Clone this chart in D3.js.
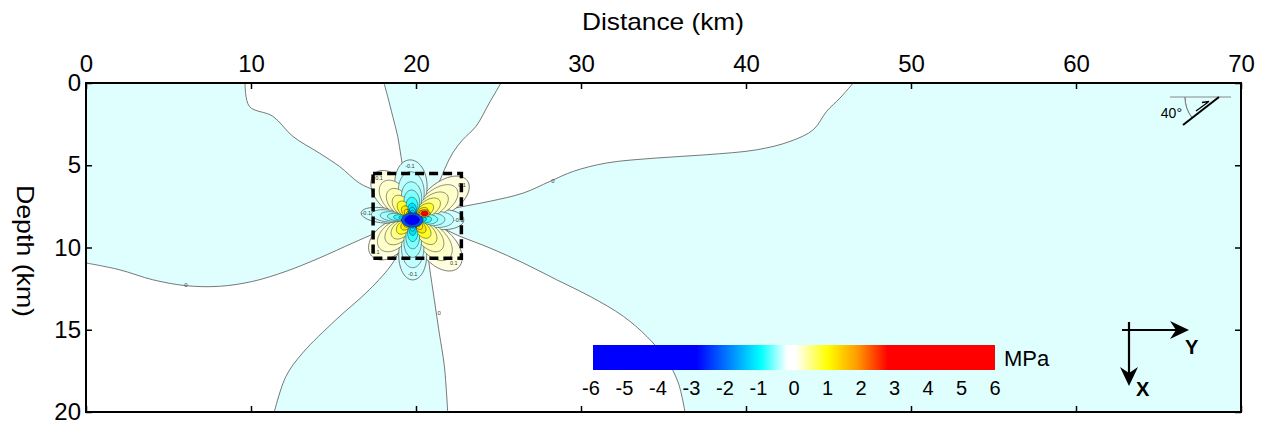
<!DOCTYPE html>
<html>
<head>
<meta charset="utf-8">
<script src="https://cdn.jsdelivr.net/npm/d3@7"></script>
<style>
body{margin:0;background:#fff;}
text{font-family:Arial,"Liberation Sans",sans-serif;}
</style>
</head>
<body>
<script>
// ticks
var distTicks = [0,10,20,30,40,50,60,70];
var depthTicks = [0,5,10,15,20];
var barTicks = [-6,-5,-4,-3,-2,-1,0,1,2,3,4,5,6];

// MPa colour scale
var stopValues = [-6,-2.9,-1,-0.2,0.05,1,1.9,2.8,6];
var stopColors = ["#0000ff","#0000ff","#00ffff","#ffffff","#ffffff","#ffff00","#ff9900","#ff0000","#ff0000"];

// far field: cyan background (slightly negative), white sectors (slightly positive)
var bgValue = -0.3;
var whiteValue = 0;

// zero contours [distance km, depth km], outer end first
var zeroNW = [[9.64,0],[9.9,1.42],[11.32,2.02],[12.53,3.24],[14.14,4.26],[15.35,5.06],[16.56,6.08],[17.58,6.58],[18.79,7.29]];
var zeroNNW = [[18.06,0],[18.28,0.81],[18.59,2.03],[18.89,3.24],[19.09,4.46],[19.29,5.67],[19.5,7.0]];
var zeroNNE = [[25.15,0],[24.44,1.22],[23.64,2.63],[22.83,3.45],[22.22,4.26],[21.72,5.27],[21.21,6.49],[20.6,7.6]];
var zeroENE = [[46.5,0],[45.7,0.91],[44.89,1.72],[44.08,2.84],[42.67,3.55],[40.65,4.06],[37.62,4.36],[34.59,4.56],[31.56,4.86],[29.54,5.37],[28.12,5.98],[26.5,6.69],[24.48,7.19],[22.67,7.54],[21.5,7.8]];
var zeroESE = [[36.3,20],[35.9,18.24],[35.19,16.82],[33.98,15.4],[32.56,14.18],[30.55,12.97],[28.52,11.96],[26.5,10.94],[24.48,10.03],[22.67,9.32],[21.5,8.8]];
var zeroS = [[21.92,20],[21.72,17.22],[21.41,15.2],[21.11,13.17],[20.81,11.14],[20.61,9.53],[20.4,8.9]];
var zeroSSW = [[11.41,20],[12.12,17.83],[13.13,16.41],[15.15,14.39],[17.17,12.57],[18.59,10.94],[19.19,9.73],[19.4,9.0]];
var zeroW = [[0,10.94],[2.02,11.35],[4.04,11.96],[6.06,12.32],[8.08,12.36],[10.1,12.06],[12.12,11.45],[14.14,10.64],[16.16,9.73],[17.58,9.12],[18.79,8.71]];
var zeroLabels = [[28.3,5.93],[6.06,12.3],[21.41,14.0]];

// source area
var origin = [19.8,8.27];
var boxDist = [17.4,22.75];
var boxDepth = [5.5,10.65];

// stress lobes around the source
var lobeAngle  = [-93, 90, -173, 1, -129, -35, 138, 47];
var lobeLength = [3.6, 3.7, 3.15, 3.1, 3.6, 4.05, 3.35, 4.05];
var lobeSharp  = [4.5, 6.5, 17, 9, 4.5, 6, 4, 5];
var lobeSign   = [-1,-1,-1,-1,1,1,1,1];
var bandFraction = [1, 0.8, 0.63, 0.49, 0.37, 0.27];
var posBands = [0.17, 0.24, 0.33, 0.48, 0.85, 1.2];
var negBands = [-0.34, -0.4, -0.48, -0.6, -0.85, -1.2];
var lineFraction = [0.2, 0.15, 0.11, 0.08];

// peaks near the hypocentre
var peakDist  = [19.77, 19.77, 20.52, 20.52];
var peakDepth = [8.33, 8.33, 7.93, 7.93];
var peakRx    = [0.66, 0.45, 0.34, 0.21];
var peakRy    = [0.44, 0.3, 0.23, 0.15];
var peakValue = [-2.3, -4.5, 1.9, 3.3];

var width = 1266, height = 430;
var svg = d3.select("body").append("svg").attr("width",width).attr("height",height);

var x = d3.scaleLinear().domain([0,70]).range([86,1241]);
var y = d3.scaleLinear().domain([0,20]).range([83,412]);
var color = d3.scaleLinear().domain(stopValues).range(stopColors).clamp(true);

svg.append("clipPath").attr("id","plotclip").append("rect")
  .attr("x",x(0)).attr("y",y(0)).attr("width",x(70)-x(0)).attr("height",y(20)-y(0));
var plot = svg.append("g").attr("clip-path","url(#plotclip)");

plot.append("rect")
  .attr("x",x(0)).attr("y",y(0)).attr("width",x(70)-x(0)).attr("height",y(20)-y(0))
  .attr("fill",color(bgValue));

var line = d3.line().x(function(d){return x(d[0]);}).y(function(d){return y(d[1]);}).curve(d3.curveCatmullRom);
function rev(a){return a.slice().reverse();}

var regions = [
  [[9.64,-1]].concat(zeroNW,[origin],rev(zeroNNW),[[18.06,-1]]),
  [[25.15,-1]].concat(zeroNNE,[origin],rev(zeroENE),[[46.5,-1]]),
  [[36.3,21]].concat(zeroESE,[origin],rev(zeroS),[[21.92,21]]),
  [[-1,10.94]].concat(zeroW,[origin],rev(zeroSSW),[[11.41,21],[-1,21]])
];
plot.selectAll(".region").data(regions).enter().append("path")
  .attr("class","region")
  .attr("d",function(d){return line(d)+"Z";})
  .attr("fill",color(whiteValue));

[zeroNW,zeroNNW,zeroNNE,zeroENE,zeroESE,zeroS,zeroSSW,zeroW].forEach(function(l){
  plot.append("path").attr("d",line(l.concat([origin])))
    .attr("fill","none").attr("stroke","#555").attr("stroke-width",0.8);
});
zeroLabels.forEach(function(p){
  plot.append("text").attr("x",x(p[0])).attr("y",y(p[1])+2)
    .attr("text-anchor","middle").attr("font-size",6).attr("fill","#444").text("0");
});

// petal shaped lobe, scaled about the origin
function petal(i,f){
  var pts = [];
  var th = lobeAngle[i]*Math.PI/180;
  for (var k=0;k<=120;k++){
    var phi = -Math.PI/2 + Math.PI*k/120;
    var r = lobeLength[i]*f*Math.pow(Math.max(Math.cos(phi),0),lobeSharp[i]);
    pts.push([origin[0]+r*Math.cos(th+phi), origin[1]+r*Math.sin(th+phi)]);
  }
  return pts;
}
var petalLine = d3.line().x(function(d){return x(d[0]);}).y(function(d){return y(d[1]);});

var lobes = plot.append("g");
bandFraction.forEach(function(f,b){
  [4,5,6,7,0,1,2,3].forEach(function(i){
    var v = lobeSign[i]>0 ? posBands[b] : negBands[b];
    lobes.append("path").attr("d",petalLine(petal(i,f))+"Z")
      .attr("fill",color(v))
      .attr("stroke",b===0?"#444":"#222").attr("stroke-width",b===0?0.7:0.5);
  });
});
lineFraction.forEach(function(f){
  [0,1,2,3,4,5,6,7].forEach(function(i){
    lobes.append("path").attr("d",petalLine(petal(i,f))+"Z")
      .attr("fill","none").attr("stroke","#111").attr("stroke-width",0.5);
  });
});
// contour labels near lobe tips
[0,1,2,3,4,5,6,7].forEach(function(i){
  var th = lobeAngle[i]*Math.PI/180;
  var r = lobeLength[i]*0.9;
  lobes.append("text")
    .attr("x",x(origin[0]+r*Math.cos(th))).attr("y",y(origin[1]+r*Math.sin(th))+2)
    .attr("text-anchor","middle").attr("font-size",5.5).attr("fill","#333")
    .text(lobeSign[i]>0?"0.1":"-0.1");
});

peakValue.forEach(function(v,i){
  lobes.append("ellipse")
    .attr("cx",x(peakDist[i])).attr("cy",y(peakDepth[i]))
    .attr("rx",x(peakRx[i])-x(0)).attr("ry",y(peakRy[i])-y(0))
    .attr("fill",color(v)).attr("stroke","#222").attr("stroke-width",0.5);
});

// dashed source box
plot.append("rect")
  .attr("x",x(boxDist[0])).attr("y",y(boxDepth[0]))
  .attr("width",x(boxDist[1])-x(boxDist[0])).attr("height",y(boxDepth[1])-y(boxDepth[0]))
  .attr("fill","none").attr("stroke","#000").attr("stroke-width",3.5).attr("stroke-dasharray","9,5");

// axes (ticks point inward)
function styleAxis(g){
  g.select(".domain").remove();
  g.selectAll(".tick line").attr("stroke","#000").attr("stroke-width",1.5);
  g.selectAll(".tick text").attr("fill","#000");
}
svg.append("g").attr("transform","translate(0,"+y(0)+")")
  .call(d3.axisTop(x).tickValues(distTicks).tickSizeInner(-6).tickSizeOuter(0).tickPadding(11))
  .attr("font-size",24).call(styleAxis);
svg.append("g").attr("transform","translate(0,"+y(20)+")")
  .call(d3.axisBottom(x).tickValues(distTicks).tickSizeInner(-6).tickSizeOuter(0).tickFormat(""))
  .call(styleAxis);
svg.append("g").attr("transform","translate("+x(0)+",0)")
  .call(d3.axisLeft(y).tickValues(depthTicks).tickSizeInner(-6).tickSizeOuter(0).tickPadding(5))
  .attr("font-size",24).call(styleAxis);
svg.append("g").attr("transform","translate("+x(70)+",0)")
  .call(d3.axisRight(y).tickValues(depthTicks).tickSizeInner(-6).tickSizeOuter(0).tickFormat(""))
  .call(styleAxis);
svg.selectAll("g").attr("font-family",null);

svg.append("rect")
  .attr("x",x(0)).attr("y",y(0)).attr("width",x(70)-x(0)).attr("height",y(20)-y(0))
  .attr("fill","none").attr("stroke","#000").attr("stroke-width",2);

svg.append("text").attr("x",663).attr("y",30).attr("text-anchor","middle")
  .attr("font-size",24).attr("textLength",162).attr("lengthAdjust","spacingAndGlyphs")
  .text("Distance (km)");
svg.append("text").attr("transform","translate(17,251) rotate(90)").attr("text-anchor","middle")
  .attr("font-size",24).attr("textLength",132).attr("lengthAdjust","spacingAndGlyphs")
  .text("Depth (km)");

// colour bar
var bx = d3.scaleLinear().domain([-6,6]).range([593,995]);
var grad = svg.append("defs").append("linearGradient").attr("id","mpa")
  .attr("x1","0%").attr("x2","100%").attr("y1","0%").attr("y2","0%");
stopValues.forEach(function(v,i){
  grad.append("stop").attr("offset",((v+6)/12*100)+"%").attr("stop-color",stopColors[i]);
});
svg.append("rect").attr("x",bx(-6)).attr("y",345).attr("width",bx(6)-bx(-6)).attr("height",25)
  .attr("fill","url(#mpa)");
svg.selectAll(".btick").data(barTicks).enter().append("text")
  .attr("class","btick").attr("x",function(d){return bx(d)+(d<0?-2:0);}).attr("y",395)
  .attr("text-anchor","middle").attr("font-size",20).text(function(d){return d;});
svg.append("text").attr("x",1004).attr("y",366).attr("font-size",22).text("MPa");

// dip symbol
var dip = svg.append("g");
dip.append("line").attr("x1",1170).attr("y1",97).attr("x2",1231).attr("y2",97)
  .attr("stroke","#888").attr("stroke-width",1);
dip.append("path").attr("d",d3.arc()({innerRadius:34,outerRadius:34,startAngle:-Math.PI/2,endAngle:-Math.PI/2-38*Math.PI/180}))
  .attr("transform","translate(1219,97)").attr("fill","none").attr("stroke","#777").attr("stroke-width",0.8);
dip.append("line").attr("x1",1183).attr("y1",125).attr("x2",1219).attr("y2",97)
  .attr("stroke","#000").attr("stroke-width",2);
dip.append("path").attr("d","M1196,111 L1209,101.5 L1202,102.5")
  .attr("fill","none").attr("stroke","#000").attr("stroke-width",1.3);
dip.append("text").attr("x",1182).attr("y",118).attr("text-anchor","end").attr("font-size",14).text("40°");

// coordinate axes symbol
var ax = svg.append("g");
ax.append("line").attr("x1",1122).attr("y1",330).attr("x2",1182).attr("y2",330).attr("stroke","#000").attr("stroke-width",2.2);
ax.append("path").attr("d","M1189,330 L1170,321 L1176,330 L1170,339 Z").attr("fill","#000");
ax.append("line").attr("x1",1129).attr("y1",322).attr("x2",1129).attr("y2",378).attr("stroke","#000").attr("stroke-width",2.2);
ax.append("path").attr("d","M1129,386 L1120,367 L1129,373 L1138,367 Z").attr("fill","#000");
ax.append("text").attr("x",1185).attr("y",354).attr("font-size",20).attr("font-weight","bold").text("Y");
ax.append("text").attr("x",1136).attr("y",396).attr("font-size",20).attr("font-weight","bold").text("X");
</script>
</body>
</html>
